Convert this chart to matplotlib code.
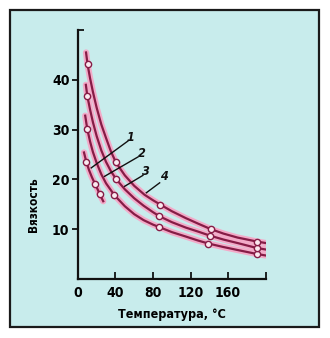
import matplotlib
matplotlib.use('Agg')
from matplotlib import pyplot as plt
from matplotlib.patches import Rectangle

plt.rcParams['font.family'] = ['DejaVu Sans']
plt.rcParams['font.stretch'] = 'condensed'
plt.rcParams['font.weight'] = 'bold'
plt.rcParams['axes.labelweight'] = 'bold'

# curves (temperature, viscosity)
t1 = [6.5, 9, 12, 15, 18.5, 21, 23.3, 27]
v1 = [25.4, 23.5, 21.8, 20.4, 19.0, 18.0, 17.0, 15.6]
t2 = [7.8, 10, 13, 16, 20, 25, 30, 39, 50, 60, 70, 80, 86.7, 100, 115, 128, 139, 155, 170, 190.6, 200]
v2 = [32.8, 30.1, 27.6, 25.5, 23.3, 21.0, 19.2, 16.8, 14.6, 13.0, 11.8, 10.9, 10.4, 9.4, 8.5, 7.7, 7.1, 6.4, 5.8, 5.0, 4.7]
t3 = [8.5, 10, 13, 16, 20, 25, 30, 35, 40.5, 50, 60, 70, 80, 86.7, 100, 115, 128, 140.5, 155, 170, 190.6, 200]
v3 = [39.0, 36.8, 34.0, 31.5, 28.7, 25.8, 23.5, 21.7, 20.1, 18.0, 16.2, 14.7, 13.4, 12.6, 11.4, 10.3, 9.5, 8.7, 7.9, 7.2, 6.2, 5.9]
t4 = [8.7, 10.3, 13, 16, 20, 25, 30, 35, 40.5, 50, 60, 71, 80, 88, 100, 115, 128, 141.5, 155, 170, 190.6, 200]
v4 = [45.5, 43.1, 40.3, 37.6, 34.4, 31.0, 28.3, 25.7, 23.4, 20.8, 18.7, 16.9, 15.8, 14.9, 13.6, 12.2, 11.1, 10.0, 9.1, 8.3, 7.5, 7.2]

# measured points (open circles)
mt1 = [9, 18.5, 23.3]
mv1 = [23.5, 19.0, 17.0]
mt2 = [10, 39, 86.7, 139, 190.6]
mv2 = [30.1, 16.8, 10.4, 7.1, 5.0]
mt3 = [10, 40.5, 86.7, 140.5, 190.6]
mv3 = [36.8, 20.1, 12.6, 8.7, 6.2]
mt4 = [10.3, 40.5, 88, 141.5, 190.6]
mv4 = [43.1, 23.4, 14.9, 10.0, 7.5]

# curve number labels: text position and leader line ends
lab = ['1', '2', '3', '4']
lab_xy = [(56.2, 28.4), (67.6, 25.2), (72.9, 21.6), (92.5, 20.6)]
lead_from = [(53.3, 27.7), (64, 24.5), (69.3, 20.8), (87.1, 19.3)]
lead_to = [(14.2, 22.3), (28.4, 20.6), (49.8, 18.6), (72.9, 17.3)]

bg = '#c8ecec'
dark = '#861c46'
glow = '#f3aac8'

fig = plt.figure(figsize=(3.3, 3.38), dpi=100)
fig.patch.set_facecolor('white')
fig.add_artist(Rectangle((0.03, 0.032), 0.938, 0.938, transform=fig.transFigure,
                         facecolor=bg, edgecolor='#1a1a1a', lw=1.6, zorder=0))

ax = fig.add_axes([0.236, 0.175, 0.569, 0.736])
ax.set_facecolor('none')

for t, v, mt, mv in [(t1, v1, mt1, mv1), (t2, v2, mt2, mv2),
                     (t3, v3, mt3, mv3), (t4, v4, mt4, mv4)]:
    ax.plot(t, v, color=glow, lw=4.5, solid_capstyle='round', solid_joinstyle='round', zorder=2)
    ax.plot(t, v, color=dark, lw=1.6, solid_joinstyle='round', zorder=3)
    ax.plot(mt, mv, 'o', ms=4.5, mfc='#fbe8ef', mec=dark, mew=1.0, zorder=4)

for s, (tx, ty), (x0, y0), (x1, y1) in zip(lab, lab_xy, lead_from, lead_to):
    ax.plot([x0, x1], [y0, y1], color='#111111', lw=1.0, zorder=5)
    ax.text(tx, ty, s, fontsize=9, style='italic', ha='center', va='center', color='#111111')

ax.set_xlim(0, 200)
ax.set_ylim(0, 50)
ax.set_xticks([0, 40, 80, 120, 160, 200])
ax.set_xticklabels(['0', '40', '80', '120', '160', ''])
ax.set_yticks([10, 20, 30, 40])
ax.set_yticks([50], minor=True)
ax.tick_params(axis='x', direction='in', length=5, width=1.2, labelsize=10, pad=5)
ax.tick_params(axis='y', direction='out', length=4, width=1.2, labelsize=10, pad=2)
ax.tick_params(axis='y', which='minor', direction='in', length=4, width=1.2)
for sp in ['top', 'right']:
    ax.spines[sp].set_visible(False)
for sp in ['left', 'bottom']:
    ax.spines[sp].set_linewidth(1.6)
    ax.spines[sp].set_color('#111111')

ax.set_xlabel('Температура, °C', fontsize=9, labelpad=6)
ax.set_ylabel('Вязкость', fontsize=8.5, labelpad=4)
ax.yaxis.set_label_coords(-0.2, 0.3)

plt.savefig('out.png', dpi=100)
